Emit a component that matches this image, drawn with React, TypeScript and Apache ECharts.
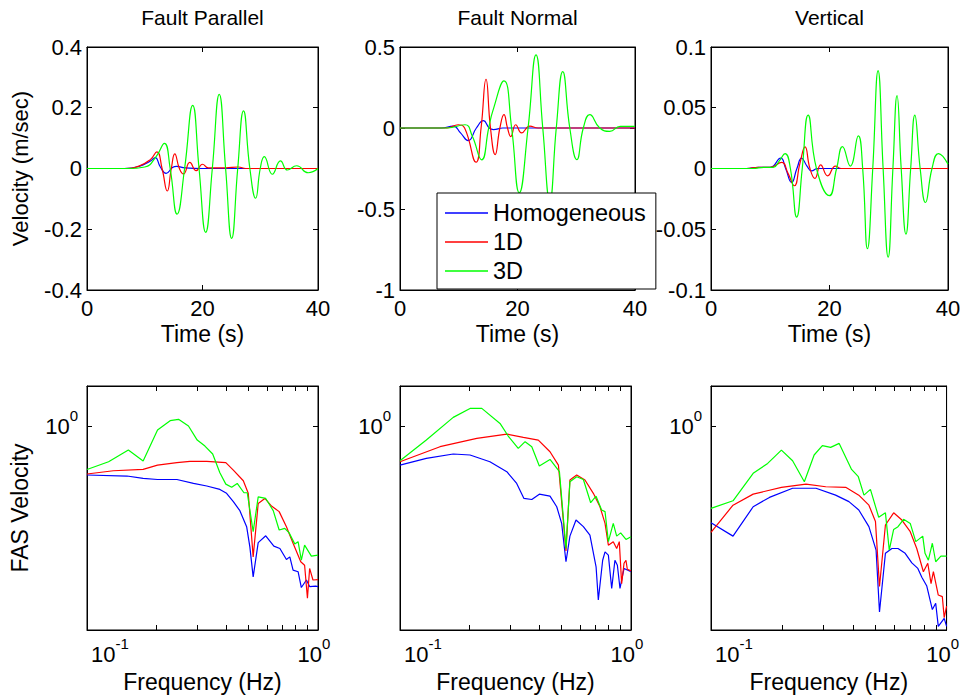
import React, { useEffect, useRef } from 'react';
import * as echarts from 'echarts';

// ---------- labels ----------
const seriesNames = ['Homogeneous', '1D', '3D'];
const seriesColors = ['#0000ff', '#ff0000', '#00ff00'];
const panelTitles = ['Fault Parallel', 'Fault Normal', 'Vertical'];
const velAxisName = 'Velocity (m/sec)';
const fasAxisName = 'FAS Velocity';
const timeAxisName = 'Time (s)';
const freqAxisName = 'Frequency (Hz)';

// ---------- axis ticks ----------
const timeRange = [0, 40];
const timeInterval = 20;
const velRanges = [
  [-0.4, 0.4, 0.2],
  [-1, 0.5, 0.5],
  [-0.1, 0.1, 0.05],
];
const freqTicks = [0.1, 0.2, 0.3, 0.4, 0.5, 0.6, 0.7, 0.8, 0.9, 1];
const freqLabelTicks = [0.1, 1];
const fasLabelTicks = [1];
const fasRange = [0.146, 1.459];

// ---------- velocity time series [t (s), v (m/s)] ----------
const fpHomVel = [[0,0],[6.5,0],[9,0.007],[11,0.025],[11.8,0.036],[12.7,0.005],[13.7,-0.016],[14.8,0.003],[15.5,0.007],[17,0.002],[20,0],[40,0]];
const fp1dVel = [[0,0],[6.5,0],[9,0.008],[11,0.03],[12.1,0.055],[13,0],[13.9,-0.074],[14.6,0],[15.2,0.048],[16,0],[16.7,-0.018],[17.8,0.02],[18.9,-0.007],[20,0.014],[21,0.002],[24,0.002],[26.2,0.005],[27.5,0],[40,0]];
const fp3dVel = [[0,0],[7,0],[10,0.005],[12,0.04],[13.4,0.083],[14.4,0],[15.6,-0.15],[16.9,0],[18.3,0.208],[19.4,0],[20.55,-0.21],[21.7,0],[22.9,0.244],[24,0],[25.05,-0.23],[26.1,0],[27.1,0.19],[28.2,0],[29.2,-0.098],[30,0],[30.7,0.039],[32.1,-0.019],[33.5,0.025],[34.7,-0.005],[36.3,0.009],[38.3,-0.014],[40,0]];

const fnHomVel = [[0,0],[7,0],[9.07,0.012],[10.3,-0.03],[11.6,-0.078],[13,0],[14.2,0.045],[15.2,0],[15.9,-0.01],[17.5,0],[40,0]];
const fn1dVel = [[0,0],[8,0],[9.9,0.02],[11,0],[12.94,-0.211],[13.8,0],[14.64,0.301],[15.4,0],[16.2,-0.164],[17,0],[17.7,0.082],[18.3,0],[18.85,-0.053],[19.7,0.02],[20.7,-0.03],[22.1,0.012],[23.5,0],[40,0]];
const fn3dVel = [[0,0],[8,0],[11.06,0.02],[12.3,-0.05],[13.9,-0.197],[15.1,0],[15.8,0.106],[17.7,0.291],[19,0],[20.3,-0.4],[21.8,0],[23.15,0.451],[24.3,0],[25.5,-0.45],[26.6,0],[27.7,0.348],[28.9,0],[30.1,-0.195],[31.2,0],[32.3,0.082],[34,0],[35.7,-0.021],[37.5,0.01],[40,0.01]];

const vtHomVel = [[0,0],[6,0],[8,0.001],[10,0.001],[11.76,0.0085],[12.6,0],[13.6,-0.0115],[14.5,0],[15.3,0.0085],[16.2,0.002],[17,-0.002],[18,0],[40,0]];
const vt1dVel = [[0,0],[6,0],[8,0.001],[10,0.001],[11.93,0.005],[13,-0.004],[14.06,-0.0142],[15,0.004],[15.87,0.0178],[16.7,0],[17.55,-0.0082],[18.5,0.003],[19.7,-0.006],[21,0.002],[22,0],[40,0]];
const vt3dVel = [[0,0],[7,0],[9,0.001],[10.5,0.001],[11.5,0.006],[12.5,0.0123],[13.4,0],[14.46,-0.04],[15.4,0],[16.4,0.044],[17.8,0],[19.97,-0.0224],[21.2,0],[22.2,0.018],[23.5,0.002],[24.86,0.0268],[25.6,0],[26.4,-0.066],[27.3,0],[28.2,0.0806],[29.05,0],[29.9,-0.073],[30.7,0],[31.4,0.06],[32.1,0],[32.9,-0.054],[33.7,0],[34.4,0.044],[35.3,0],[36.2,-0.028],[37.3,0],[38.4,0.0123],[40,0.0036]];

// ---------- Fourier amplitude spectra [f (Hz), FAS] ----------
const fpHomFas = [[0.1,0.63],[0.149,0.624],[0.175,0.61],[0.202,0.604],[0.245,0.604],[0.289,0.582],[0.33,0.568],[0.376,0.55],[0.402,0.53],[0.43,0.49],[0.459,0.45],[0.491,0.387],[0.507,0.32],[0.524,0.241],[0.551,0.333],[0.594,0.355],[0.644,0.322],[0.684,0.315],[0.73,0.284],[0.755,0.291],[0.78,0.257],[0.82,0.253],[0.847,0.218],[0.891,0.234],[0.92,0.22],[0.977,0.221],[1,0.22]];
const fp1dFas = [[0.1,0.636],[0.13,0.656],[0.175,0.664],[0.202,0.692],[0.245,0.708],[0.279,0.717],[0.33,0.717],[0.399,0.708],[0.43,0.66],[0.475,0.597],[0.499,0.53],[0.524,0.291],[0.551,0.482],[0.589,0.505],[0.629,0.47],[0.679,0.446],[0.73,0.387],[0.78,0.331],[0.842,0.278],[0.875,0.269],[0.9,0.197],[0.92,0.261],[0.951,0.234],[1,0.235]];
const fp3dFas = [[0.1,0.664],[0.124,0.714],[0.151,0.797],[0.175,0.719],[0.202,0.963],[0.229,1.052],[0.249,1.065],[0.275,1.0],[0.3,0.876],[0.324,0.828],[0.35,0.768],[0.376,0.644],[0.399,0.578],[0.423,0.561],[0.447,0.582],[0.478,0.533],[0.494,0.533],[0.524,0.369],[0.551,0.513],[0.594,0.505],[0.64,0.45],[0.679,0.375],[0.718,0.381],[0.75,0.365],[0.793,0.329],[0.82,0.336],[0.847,0.282],[0.875,0.325],[0.936,0.293],[1,0.296]];

const fnHomFas = [[0.1,0.692],[0.13,0.737],[0.17,0.768],[0.201,0.761],[0.245,0.714],[0.29,0.65],[0.32,0.582],[0.344,0.505],[0.372,0.5],[0.401,0.526],[0.446,0.516],[0.477,0.467],[0.501,0.399],[0.523,0.278],[0.544,0.354],[0.578,0.412],[0.622,0.387],[0.664,0.357],[0.706,0.265],[0.722,0.194],[0.754,0.282],[0.772,0.305],[0.798,0.296],[0.825,0.216],[0.852,0.282],[0.873,0.269],[0.896,0.216],[0.933,0.261],[0.964,0.257],[1,0.253]];
const fn1dFas = [[0.1,0.714],[0.149,0.823],[0.215,0.89],[0.29,0.927],[0.342,0.899],[0.397,0.876],[0.446,0.785],[0.485,0.692],[0.523,0.308],[0.544,0.601],[0.582,0.63],[0.632,0.601],[0.687,0.53],[0.734,0.467],[0.772,0.399],[0.798,0.325],[0.838,0.336],[0.867,0.315],[0.89,0.336],[0.911,0.226],[0.933,0.274],[0.951,0.282],[0.964,0.259],[1,0.255]];
const fn3dFas = [[0.1,0.721],[0.13,0.876],[0.17,1.085],[0.201,1.181],[0.226,1.181],[0.271,1.025],[0.294,0.91],[0.325,0.81],[0.348,0.863],[0.372,0.823],[0.401,0.686],[0.446,0.73],[0.49,0.65],[0.523,0.315],[0.544,0.591],[0.582,0.62],[0.622,0.604],[0.669,0.485],[0.706,0.516],[0.746,0.453],[0.772,0.446],[0.798,0.336],[0.838,0.399],[0.867,0.354],[0.902,0.365],[0.951,0.343],[1,0.352]];

const vtHomFas = [[0.1,0.402],[0.124,0.354],[0.151,0.467],[0.177,0.51],[0.222,0.556],[0.279,0.556],[0.338,0.521],[0.385,0.49],[0.424,0.453],[0.468,0.387],[0.502,0.31],[0.519,0.173],[0.55,0.301],[0.586,0.315],[0.622,0.315],[0.667,0.301],[0.712,0.275],[0.755,0.261],[0.785,0.24],[0.824,0.221],[0.87,0.177],[0.899,0.188],[0.922,0.151],[0.977,0.163],[1,0.151]];
const vt1dFas = [[0.1,0.367],[0.124,0.474],[0.151,0.526],[0.199,0.561],[0.253,0.578],[0.307,0.564],[0.373,0.561],[0.424,0.521],[0.468,0.474],[0.499,0.406],[0.519,0.22],[0.55,0.393],[0.596,0.441],[0.646,0.412],[0.701,0.369],[0.747,0.315],[0.797,0.253],[0.832,0.274],[0.859,0.226],[0.879,0.253],[0.922,0.203],[0.959,0.2],[0.977,0.164],[1,0.183]];
const vt3dFas = [[0.1,0.46],[0.124,0.494],[0.151,0.64],[0.174,0.703],[0.199,0.797],[0.222,0.721],[0.249,0.591],[0.274,0.761],[0.297,0.831],[0.322,0.818],[0.35,0.849],[0.395,0.664],[0.422,0.62],[0.446,0.521],[0.475,0.55],[0.515,0.423],[0.55,0.441],[0.571,0.31],[0.596,0.377],[0.622,0.387],[0.657,0.415],[0.701,0.399],[0.74,0.336],[0.792,0.354],[0.81,0.301],[0.837,0.282],[0.87,0.331],[0.899,0.278],[0.946,0.293],[1,0.293]];

const velData = [
  [fpHomVel, fp1dVel, fp3dVel],
  [fnHomVel, fn1dVel, fn3dVel],
  [vtHomVel, vt1dVel, vt3dVel],
];
const fasData = [
  [fpHomFas, fp1dFas, fp3dFas],
  [fnHomFas, fn1dFas, fn3dFas],
  [vtHomFas, vt1dFas, vt3dFas],
];

// ---------- layout ----------
const FONT = '"Liberation Sans", Arial, Helvetica, sans-serif';
const FS = 22;
const TICK_LEN = 5;
const gridBoxes = [
  { left: 87, top: 47, width: 231, height: 243 },
  { left: 400, top: 47, width: 235, height: 243 },
  { left: 711, top: 47, width: 237, height: 243 },
  { left: 87, top: 386, width: 231, height: 244 },
  { left: 400, top: 386, width: 231, height: 244 },
  { left: 711, top: 386, width: 237, height: 244 },
];

const lg = (v: number) => Math.log10(v);
const txt = { color: '#000', fontFamily: FONT, fontSize: FS };
const nameTxt = { ...txt, fontSize: 23 };
const tickStyle = (extra: any = {}) => ({ show: true, inside: true, length: TICK_LEN, lineStyle: { color: '#000', width: 1 }, ...extra });
const axisLineStyle = { show: true, onZero: false, lineStyle: { color: '#000', width: 1 } };
const powRich = {
  b: { ...txt, lineHeight: 36 },
  e: { ...txt, fontSize: 15, lineHeight: 14, verticalAlign: 'top' },
  e2: { ...txt, fontSize: 15, lineHeight: 14, verticalAlign: 'top', padding: [0, 8, 0, 0] },
  bl: { ...txt, lineHeight: 36, padding: [0, 0, 0, 4] },
};
const powFormatterX = (v: number) => {
  const ex = Math.round(v);
  return ex < 0 ? `{bl|10}{e|${ex}}` : `{b|10}{e2|${ex}}`;
};
const powFormatterY = (v: number) => `{b|10}{e|${Math.round(v)}}`;

function buildOption() {
  const grid = gridBoxes.map((g) => ({
    ...g,
    show: true,
    borderColor: '#000',
    borderWidth: 1,
    backgroundColor: '#fff',
    containLabel: false,
  }));
  const xAxis: any[] = [];
  const yAxis: any[] = [];
  const series: any[] = [];

  for (let i = 0; i < 6; i++) {
    const top = i < 3;
    const col = i % 3;
    if (top) {
      const base = {
        type: 'value', gridIndex: i, min: timeRange[0], max: timeRange[1], interval: timeInterval,
        axisLine: axisLineStyle, splitLine: { show: false }, axisTick: tickStyle(),
      };
      xAxis.push({
        ...base, position: 'bottom',
        axisLabel: { ...txt, margin: 7 },
        name: timeAxisName, nameLocation: 'middle', nameGap: 32, nameTextStyle: nameTxt,
      });
      xAxis.push({ ...base, position: 'top', axisLabel: { show: false } });
      const [mn, mx, iv] = velRanges[col];
      const ybase = {
        type: 'value', gridIndex: i, min: mn, max: mx, interval: iv,
        axisLine: axisLineStyle, splitLine: { show: false }, axisTick: tickStyle(),
      };
      yAxis.push({
        ...ybase, position: 'left',
        axisLabel: { ...txt, margin: 5 },
        ...(col === 0 ? { name: velAxisName, nameLocation: 'middle', nameGap: 56, nameRotate: 90, nameTextStyle: txt } : {}),
      });
      yAxis.push({ ...ybase, position: 'right', axisLabel: { show: false } });
      velData[col].forEach((d, k) => {
        series.push({
          type: 'line', name: seriesNames[k], xAxisIndex: 2 * i, yAxisIndex: 2 * i,
          data: d, symbol: 'none', smooth: 0.5, animation: false,
          lineStyle: { color: seriesColors[k], width: 1.2 }, itemStyle: { color: seriesColors[k] },
          z: 2 + k,
        });
      });
    } else {
      const base = {
        type: 'value', gridIndex: i, min: lg(freqTicks[0]), max: lg(freqTicks[freqTicks.length - 1]),
        axisLine: axisLineStyle, splitLine: { show: false },
        axisTick: tickStyle({ customValues: freqTicks.map(lg) }),
      };
      xAxis.push({
        ...base, position: 'bottom',
        axisLabel: {
          ...txt, margin: 6, customValues: freqLabelTicks.map(lg), formatter: powFormatterX, rich: powRich,
          alignMinLabel: 'left', alignMaxLabel: 'center',
        },
        name: freqAxisName, nameLocation: 'middle', nameGap: 40, nameTextStyle: nameTxt,
      });
      xAxis.push({ ...base, position: 'top', axisLabel: { show: false } });
      const ybase = {
        type: 'value', gridIndex: i, min: lg(fasRange[0]), max: lg(fasRange[1]),
        axisLine: axisLineStyle, splitLine: { show: false },
        axisTick: tickStyle({ customValues: fasLabelTicks.map(lg) }),
      };
      yAxis.push({
        ...ybase, position: 'left',
        axisLabel: { ...txt, margin: 9, customValues: fasLabelTicks.map(lg), formatter: powFormatterY, rich: powRich },
        ...(col === 0 ? { name: fasAxisName, nameLocation: 'middle', nameGap: 56, nameRotate: 90, nameTextStyle: nameTxt } : {}),
      });
      yAxis.push({ ...ybase, position: 'right', axisLabel: { show: false } });
      fasData[col].forEach((d, k) => {
        series.push({
          type: 'line', name: seriesNames[k], xAxisIndex: 2 * i, yAxisIndex: 2 * i,
          data: d.map(([f, a]) => [lg(f), lg(a)]), symbol: 'none', smooth: false, animation: false,
          lineStyle: { color: seriesColors[k], width: 1.2 }, itemStyle: { color: seriesColors[k] },
          z: 2 + k,
        });
      });
    }
  }

  const title = panelTitles.map((t, k) => ({
    text: t,
    left: gridBoxes[k].left + gridBoxes[k].width / 2,
    top: 7,
    textAlign: 'center',
    padding: 0,
    textStyle: { ...txt, fontSize: 21, fontWeight: 'normal' },
  }));

  return {
    animation: false,
    backgroundColor: '#fff',
    title,
    grid,
    xAxis,
    yAxis,
    series,
    legend: {
      show: true,
      orient: 'vertical',
      left: 437,
      top: 193,
      data: seriesNames,
      icon: 'rect',
      padding: [8, 10, 6, 8],
      itemWidth: 43,
      itemHeight: 1.5,
      itemGap: 5,
      backgroundColor: '#fff',
      borderColor: '#000',
      borderWidth: 1,
      borderRadius: 0,
      selectedMode: false,
      textStyle: { ...txt, fontSize: 23.5 },
      z: 10,
    },
  };
}

export default function App() {
  const ref = useRef<HTMLDivElement>(null);
  useEffect(() => {
    if (!ref.current) return;
    const chart = echarts.init(ref.current, undefined, { renderer: 'svg' });
    chart.setOption(buildOption() as any);
    return () => chart.dispose();
  }, []);
  return (
    <div
      ref={ref}
      style={{ position: 'absolute', left: 0, top: 0, width: 970, height: 699, background: '#fff' }}
    />
  );
}
